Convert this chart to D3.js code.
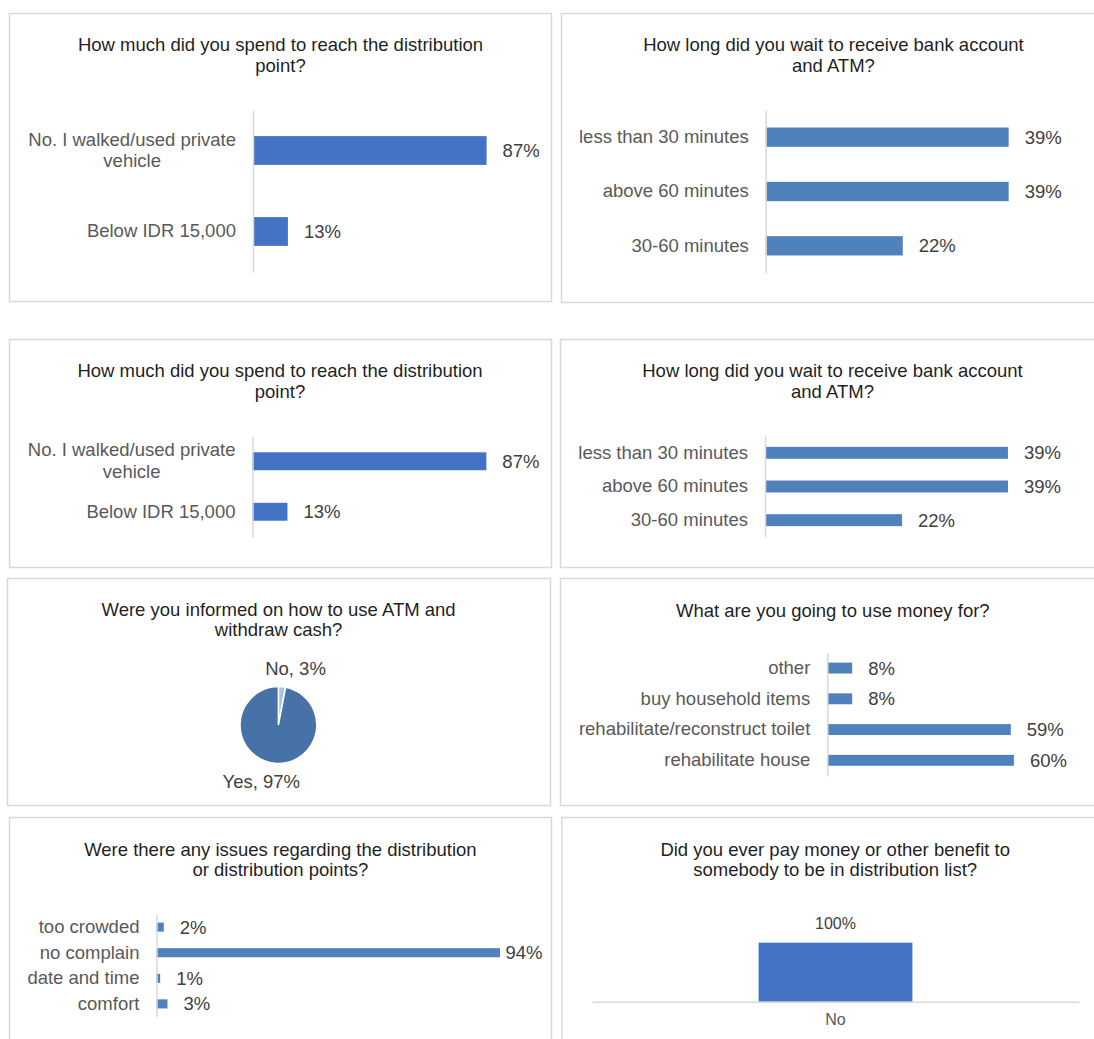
<!DOCTYPE html>
<html>
<head>
<meta charset="utf-8">
<script src="https://cdn.jsdelivr.net/npm/d3@7"></script>
<style>
  html, body { margin: 0; padding: 0; background: #ffffff; }
  svg { display: block; font-family: "Liberation Sans", Arial, Helvetica, sans-serif; }
</style>
</head>
<body>
<script>
// ---------------- DATA ----------------
const spendTitle = ["How much did you spend to reach the distribution", "point?"];
const spendCats = ["No. I walked/used private vehicle", "Below IDR 15,000"];
const spendVals = [87, 13];

const waitTitle = ["How long did you wait to receive bank account", "and ATM?"];
const waitCats = ["less than 30 minutes", "above 60 minutes", "30-60 minutes"];
const waitVals = [39, 39, 22];

const informedTitle = ["Were you informed on how to use ATM and", "withdraw cash?"];
const informedCats = ["No", "Yes"];
const informedVals = [3, 97];

const useTitle = ["What are you going to use money for?"];
const useCats = ["other", "buy household items", "rehabilitate/reconstruct toilet", "rehabilitate house"];
const useVals = [8, 8, 59, 60];

const issueTitle = ["Were there any issues regarding the distribution", "or distribution points?"];
const issueCats = ["too crowded", "no complain", "date and time", "comfort"];
const issueVals = [2, 94, 1, 3];

const payTitle = ["Did you ever pay money or other benefit to", "somebody to be in distribution list?"];
const payCats = ["No"];
const payVals = [100];

// ---------------- STYLE ----------------
const W = 1094, H = 1039;
const FS = 18.5;
const BORDER = "#d9d9d9";
const TITLE_COL = "#1f1f1f";
const CAT_COL = "#595959";
const VAL_COL = "#404040";
const BLUE1 = "#4472C4";
const BLUE2 = "#4F81BD";
const PIE_DARK = "#4672A8";
const PIE_LIGHT = "#A9C1E2";
const TICK_PAD = 17;

const svg = d3.select("body").append("svg")
  .attr("width", W).attr("height", H);

function panel(box, title, tx, ty, lh) {
  svg.append("rect")
    .attr("x", box[0]).attr("y", box[1]).attr("width", box[2]).attr("height", box[3])
    .attr("fill", "#fff").attr("stroke", BORDER).attr("stroke-width", 1.5);
  const t = svg.append("text")
    .attr("text-anchor", "middle").attr("font-size", FS).attr("fill", TITLE_COL);
  title.forEach((line, i) => {
    t.append("tspan").attr("x", tx).attr("y", ty + i * lh).attr("dy", "0.35em").text(line);
  });
}

// Wrap long tick labels; the wrapped block stays right-aligned to the axis,
// while its lines are centred on each other (as in the original chart).
function wrapText(sel, maxW, lh) {
  sel.each(function () {
    const text = d3.select(this);
    const full = text.text();
    if (this.getComputedTextLength() <= maxW) return;
    const words = full.split(/\s+/);
    const lines = [];
    let cur = [];
    const probe = text.text(null).append("tspan");
    words.forEach(w => {
      cur.push(w);
      probe.text(cur.join(" "));
      if (probe.node().getComputedTextLength() > maxW && cur.length > 1) {
        cur.pop();
        lines.push(cur.join(" "));
        cur = [w];
      }
    });
    lines.push(cur.join(" "));
    // measure widest line
    let maxLen = 0;
    lines.forEach(l => {
      probe.text(l);
      maxLen = Math.max(maxLen, probe.node().getComputedTextLength());
    });
    probe.remove();
    const cx = -(TICK_PAD + maxLen / 2);
    const n = lines.length;
    text.attr("text-anchor", "middle").attr("x", cx).attr("dy", null);
    lines.forEach((l, i) => {
      text.append("tspan").attr("x", cx)
        .attr("dy", i === 0 ? ((-(n - 1) / 2) * lh / FS + 0.32) + "em" : (lh / FS) + "em")
        .text(l);
    });
  });
}

function hbar(o) {
  const x = d3.scaleLinear().domain([0, 100]).range([o.axisX, o.axisX + 100 * o.k]);
  const y = d3.scaleBand().domain(o.cats).range(o.yRange)
    .paddingInner(0.645).paddingOuter(0.3225);
  const g = svg.append("g");
  const data = o.cats.map((c, i) => ({ c, v: o.vals[i] }));

  g.selectAll("rect.bar").data(data).join("rect")
    .attr("class", "bar")
    .attr("x", x(0))
    .attr("y", d => y(d.c))
    .attr("width", d => x(d.v) - x(0))
    .attr("height", y.bandwidth())
    .attr("fill", o.color);

  const ax = g.append("g")
    .attr("transform", `translate(${o.axisX},0)`)
    .call(d3.axisLeft(y).tickSize(0).tickPadding(TICK_PAD));
  ax.attr("font-size", null).attr("font-family", null);
  ax.select(".domain").attr("stroke", BORDER).attr("stroke-width", 1.5);
  const tt = ax.selectAll(".tick text").attr("font-size", FS).attr("fill", CAT_COL);
  if (o.wrap) wrapText(tt, o.wrap, o.lineH);

  const labels = g.selectAll("text.val").data(data).join("text")
    .attr("class", "val")
    .attr("x", d => x(d.v) + 16)
    .attr("y", d => y(d.c) + y.bandwidth() / 2)
    .attr("dy", "0.35em")
    .attr("font-size", FS).attr("fill", VAL_COL)
    .text(d => d.v + "%");
  if (o.maxX) {
    labels.each(function () {
      const len = this.getComputedTextLength();
      const lx = +d3.select(this).attr("x");
      if (lx + len > o.maxX) d3.select(this).attr("x", o.maxX - len);
    });
  }
}

// ---------- Panel 1 ----------
panel([9.5, 13.5, 542, 288], spendTitle, 280.5, 45, 20.5);
hbar({ cats: spendCats, vals: spendVals, axisX: 253, k: 2.685, yRange: [110, 272],
  color: BLUE1, wrap: 215, lineH: 21.5 });

// ---------- Panel 2 ----------
panel([561.5, 13.5, 544, 289], waitTitle, 833.4, 45, 20.5);
hbar({ cats: waitCats, vals: waitVals, axisX: 765.7, k: 6.23, yRange: [110, 273],
  color: BLUE2 });

// ---------- Panel 3 ----------
panel([9.5, 339.5, 542, 228], spendTitle, 280, 370.7, 21);
hbar({ cats: spendCats, vals: spendVals, axisX: 252.5, k: 2.688, yRange: [436, 537],
  color: BLUE1, wrap: 215, lineH: 21.7 });

// ---------- Panel 4 ----------
panel([560.5, 339.5, 544, 228], waitTitle, 832.5, 370.7, 21);
hbar({ cats: waitCats, vals: waitVals, axisX: 765, k: 6.23, yRange: [436, 537],
  color: BLUE2 });

// ---------- Panel 5 (pie) ----------
panel([7.5, 578.5, 543, 227], informedTitle, 278.6, 610, 20);
(function () {
  const cx = 278.4, cy = 725, r = 38.4;
  const data = informedCats.map((c, i) => ({ c, v: informedVals[i] }));
  const pie = d3.pie().sort(null).value(d => d.v);
  const arcs = pie(data);
  const arc = d3.arc().innerRadius(0).outerRadius(r);
  const g = svg.append("g").attr("transform", `translate(${cx},${cy})`);
  g.selectAll("path").data(arcs).join("path")
    .attr("d", arc)
    .attr("fill", d => d.data.c === "No" ? PIE_LIGHT : PIE_DARK)
    .attr("stroke", "#fff").attr("stroke-width", 1.5);
  const lr = 59;
  g.selectAll("text").data(arcs).join("text")
    .attr("x", d => lr * Math.sin((d.startAngle + d.endAngle) / 2 + 0.2))
    .attr("y", d => -lr * Math.cos((d.startAngle + d.endAngle) / 2 + 0.2))
    .attr("dy", "0.35em")
    .attr("text-anchor", "middle")
    .attr("font-size", FS).attr("fill", VAL_COL)
    .text(d => `${d.data.c}, ${d.data.v}%`);
})();

// ---------- Panel 6 ----------
panel([560.5, 578.5, 544, 227], useTitle, 832.8, 610.7, 20);
hbar({ cats: useCats, vals: useVals, axisX: 827.3, k: 3.11, yRange: [652.7, 775.7],
  color: BLUE2 });

// ---------- Panel 7 ----------
panel([9.5, 817.5, 542, 240], issueTitle, 280.4, 850, 20);
hbar({ cats: issueCats, vals: issueVals, axisX: 156.5, k: 3.654, yRange: [914.3, 1016.7],
  color: BLUE2, maxX: 542.5 });

// ---------- Panel 8 (column) ----------
panel([562, 817.5, 544, 240], payTitle, 835.2, 850, 20);
(function () {
  const x = d3.scaleBand().domain(payCats).range([592, 1079]).padding(0.52);
  const y = d3.scaleLinear().domain([0, 100]).range([1001.7, 942.7]);
  const data = payCats.map((c, i) => ({ c, v: payVals[i] }));
  const g = svg.append("g");
  g.selectAll("rect").data(data).join("rect")
    .attr("x", d => x(d.c)).attr("width", x.bandwidth())
    .attr("y", d => y(d.v)).attr("height", d => y(0) - y(d.v))
    .attr("fill", BLUE1);
  const ax = g.append("g").attr("transform", `translate(0,${y(0)})`)
    .call(d3.axisBottom(x).tickSize(0).tickPadding(12));
  ax.attr("font-size", null).attr("font-family", null);
  ax.select(".domain").attr("stroke", BORDER).attr("stroke-width", 1.5);
  ax.selectAll(".tick text").attr("font-size", 16).attr("fill", CAT_COL);
  g.selectAll("text.val").data(data).join("text")
    .attr("class", "val")
    .attr("x", d => x(d.c) + x.bandwidth() / 2)
    .attr("y", d => y(d.v) - 19.4)
    .attr("dy", "0.35em")
    .attr("text-anchor", "middle")
    .attr("font-size", 16).attr("fill", VAL_COL)
    .text(d => d.v + "%");
})();
</script>
</body>
</html>
